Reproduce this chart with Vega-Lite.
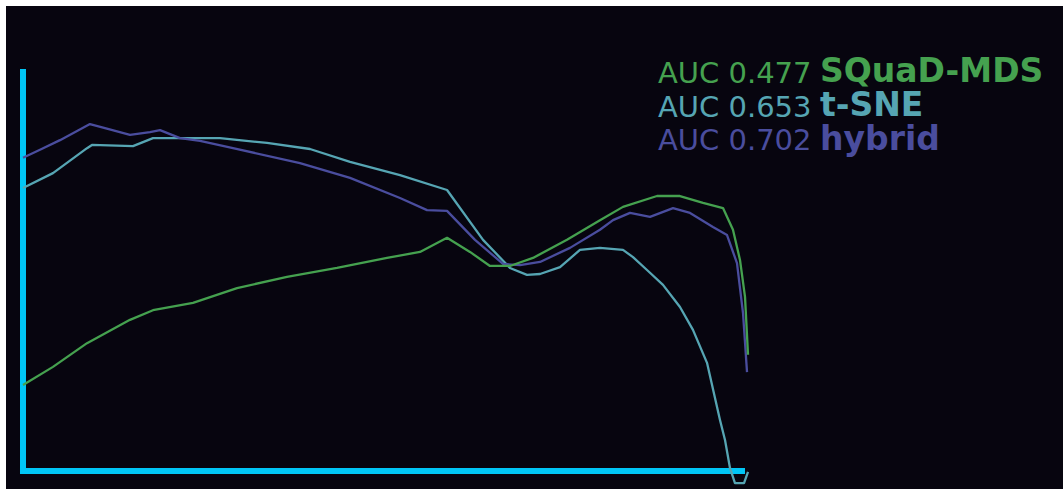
{
  "$schema": "https://vega.github.io/schema/vega-lite/v6.json",
  "width": 1057,
  "height": 483,
  "autosize": {"type": "none"},
  "padding": {"left": 6, "top": 6, "right": 0, "bottom": 0},
  "background": "#ffffff",
  "config": {"view": {"fill": "#07050f", "stroke": null}},
  "datasets": {
    "curves": [
      {"method": "t-SNE", "x": 0, "y": 0.704},
      {"method": "t-SNE", "x": 4.18, "y": 0.741},
      {"method": "t-SNE", "x": 8.93, "y": 0.803},
      {"method": "t-SNE", "x": 9.62, "y": 0.811},
      {"method": "t-SNE", "x": 15.34, "y": 0.808},
      {"method": "t-SNE", "x": 18.13, "y": 0.828},
      {"method": "t-SNE", "x": 27.48, "y": 0.828},
      {"method": "t-SNE", "x": 34.03, "y": 0.816},
      {"method": "t-SNE", "x": 40.03, "y": 0.801},
      {"method": "t-SNE", "x": 45.61, "y": 0.769},
      {"method": "t-SNE", "x": 52.58, "y": 0.736},
      {"method": "t-SNE", "x": 59.14, "y": 0.699},
      {"method": "t-SNE", "x": 64.16, "y": 0.575},
      {"method": "t-SNE", "x": 67.92, "y": 0.505},
      {"method": "t-SNE", "x": 70.29, "y": 0.488},
      {"method": "t-SNE", "x": 72.11, "y": 0.49},
      {"method": "t-SNE", "x": 74.9, "y": 0.507},
      {"method": "t-SNE", "x": 77.68, "y": 0.55},
      {"method": "t-SNE", "x": 80.47, "y": 0.555},
      {"method": "t-SNE", "x": 83.68, "y": 0.55},
      {"method": "t-SNE", "x": 85.08, "y": 0.532},
      {"method": "t-SNE", "x": 87.03, "y": 0.5},
      {"method": "t-SNE", "x": 89.26, "y": 0.463},
      {"method": "t-SNE", "x": 91.63, "y": 0.408},
      {"method": "t-SNE", "x": 93.44, "y": 0.351},
      {"method": "t-SNE", "x": 95.4, "y": 0.269},
      {"method": "t-SNE", "x": 97.21, "y": 0.127},
      {"method": "t-SNE", "x": 97.91, "y": 0.077},
      {"method": "t-SNE", "x": 98.61, "y": 0.007},
      {"method": "t-SNE", "x": 99.3, "y": -0.03},
      {"method": "t-SNE", "x": 100.56, "y": -0.03},
      {"method": "t-SNE", "x": 101.12, "y": -0.002},
      {"method": "hybrid", "x": 0, "y": 0.779},
      {"method": "hybrid", "x": 2.37, "y": 0.799},
      {"method": "hybrid", "x": 5.16, "y": 0.823},
      {"method": "hybrid", "x": 9.34, "y": 0.863},
      {"method": "hybrid", "x": 11.44, "y": 0.853},
      {"method": "hybrid", "x": 14.92, "y": 0.836},
      {"method": "hybrid", "x": 17.71, "y": 0.843},
      {"method": "hybrid", "x": 19.11, "y": 0.848},
      {"method": "hybrid", "x": 21.9, "y": 0.828},
      {"method": "hybrid", "x": 24.69, "y": 0.821},
      {"method": "hybrid", "x": 29.29, "y": 0.803},
      {"method": "hybrid", "x": 38.63, "y": 0.766},
      {"method": "hybrid", "x": 45.61, "y": 0.729},
      {"method": "hybrid", "x": 52.58, "y": 0.679},
      {"method": "hybrid", "x": 56.35, "y": 0.649},
      {"method": "hybrid", "x": 59.14, "y": 0.647},
      {"method": "hybrid", "x": 63.04, "y": 0.575},
      {"method": "hybrid", "x": 66.95, "y": 0.515},
      {"method": "hybrid", "x": 69.32, "y": 0.512},
      {"method": "hybrid", "x": 72.11, "y": 0.52},
      {"method": "hybrid", "x": 76.29, "y": 0.555},
      {"method": "hybrid", "x": 80.47, "y": 0.6},
      {"method": "hybrid", "x": 82.29, "y": 0.624},
      {"method": "hybrid", "x": 84.66, "y": 0.642},
      {"method": "hybrid", "x": 87.45, "y": 0.632},
      {"method": "hybrid", "x": 90.66, "y": 0.654},
      {"method": "hybrid", "x": 93.03, "y": 0.642},
      {"method": "hybrid", "x": 96.23, "y": 0.607},
      {"method": "hybrid", "x": 98.19, "y": 0.587},
      {"method": "hybrid", "x": 99.58, "y": 0.517},
      {"method": "hybrid", "x": 100.42, "y": 0.393},
      {"method": "hybrid", "x": 100.98, "y": 0.246},
      {"method": "SQuaD-MDS", "x": 0, "y": 0.214},
      {"method": "SQuaD-MDS", "x": 4.18, "y": 0.259},
      {"method": "SQuaD-MDS", "x": 8.93, "y": 0.318},
      {"method": "SQuaD-MDS", "x": 14.92, "y": 0.376},
      {"method": "SQuaD-MDS", "x": 18.13, "y": 0.4},
      {"method": "SQuaD-MDS", "x": 23.71, "y": 0.418},
      {"method": "SQuaD-MDS", "x": 29.85, "y": 0.455},
      {"method": "SQuaD-MDS", "x": 36.82, "y": 0.483},
      {"method": "SQuaD-MDS", "x": 43.79, "y": 0.505},
      {"method": "SQuaD-MDS", "x": 50.77, "y": 0.53},
      {"method": "SQuaD-MDS", "x": 55.37, "y": 0.545},
      {"method": "SQuaD-MDS", "x": 59.14, "y": 0.58},
      {"method": "SQuaD-MDS", "x": 62.34, "y": 0.545},
      {"method": "SQuaD-MDS", "x": 65.13, "y": 0.51},
      {"method": "SQuaD-MDS", "x": 67.92, "y": 0.51},
      {"method": "SQuaD-MDS", "x": 71.13, "y": 0.53},
      {"method": "SQuaD-MDS", "x": 75.87, "y": 0.575},
      {"method": "SQuaD-MDS", "x": 80.47, "y": 0.624},
      {"method": "SQuaD-MDS", "x": 83.68, "y": 0.657},
      {"method": "SQuaD-MDS", "x": 88.42, "y": 0.684},
      {"method": "SQuaD-MDS", "x": 91.63, "y": 0.684},
      {"method": "SQuaD-MDS", "x": 94.84, "y": 0.667},
      {"method": "SQuaD-MDS", "x": 97.63, "y": 0.654},
      {"method": "SQuaD-MDS", "x": 99.02, "y": 0.6},
      {"method": "SQuaD-MDS", "x": 100, "y": 0.525},
      {"method": "SQuaD-MDS", "x": 100.7, "y": 0.433},
      {"method": "SQuaD-MDS", "x": 101.12, "y": 0.289}
    ],
    "labels": [
      {"method": "SQuaD-MDS", "auc": "AUC 0.477", "rank": 0},
      {"method": "t-SNE", "auc": "AUC 0.653", "rank": 1},
      {"method": "hybrid", "auc": "AUC 0.702", "rank": 2}
    ],
    "frame": [
      {"x0": -0.42, "x1": 100.7, "y0": -0.0075, "y1": 1, "base": 0, "left": 0}
    ]
  },
  "resolve": {"scale": {"y": "independent"}},
  "layer": [
    {
      "data": {"name": "frame"},
      "mark": {"type": "rule", "color": "#00c6f6", "strokeWidth": 6, "strokeCap": "butt"},
      "encoding": {
        "x": {"field": "left", "type": "quantitative", "scale": {"domain": [-2.371, 145.05], "nice": false, "zero": false}, "axis": null},
        "y": {"field": "y0", "type": "quantitative", "scale": {"domain": [-0.0448, 1.1567], "nice": false, "zero": false}, "axis": null},
        "y2": {"field": "y1"}
      }
    },
    {
      "data": {"name": "frame"},
      "mark": {"type": "rule", "color": "#00c6f6", "strokeWidth": 6, "strokeCap": "butt"},
      "encoding": {
        "y": {"field": "base", "type": "quantitative", "scale": {"domain": [-0.0448, 1.1567], "nice": false, "zero": false}, "axis": null},
        "x": {"field": "x0", "type": "quantitative", "axis": null},
        "x2": {"field": "x1"}
      }
    },
    {
      "data": {"name": "curves"},
      "mark": {"type": "line", "strokeWidth": 2.3, "strokeJoin": "round", "interpolate": "linear"},
      "encoding": {
        "x": {"field": "x", "type": "quantitative", "axis": null},
        "y": {"field": "y", "type": "quantitative", "scale": {"domain": [-0.0448, 1.1567], "nice": false, "zero": false}, "axis": null},
        "color": {"field": "method", "type": "nominal", "legend": null,
          "scale": {"domain": ["SQuaD-MDS", "t-SNE", "hybrid"], "range": ["#45a14f", "#56a5b3", "#4a4d9e"]}},
        "order": {"field": "x", "type": "quantitative"}
      }
    },
    {
      "data": {"name": "labels"},
      "mark": {"type": "text", "font": "DejaVu Sans", "fontSize": 29, "align": "left", "baseline": "alphabetic"},
      "encoding": {
        "x": {"datum": 88.56, "type": "quantitative", "axis": null},
        "y": {"field": "rank", "type": "quantitative", "scale": {"domain": [0, 2], "range": [77, 144]}, "axis": null},
        "text": {"field": "auc"},
        "color": {"field": "method", "type": "nominal", "legend": null}
      }
    },
    {
      "data": {"name": "labels"},
      "mark": {"type": "text", "font": "DejaVu Sans", "fontSize": 33, "fontWeight": "bold", "align": "left", "baseline": "alphabetic"},
      "encoding": {
        "x": {"datum": 111.16, "type": "quantitative", "axis": null},
        "y": {"field": "rank", "type": "quantitative", "scale": {"domain": [0, 2], "range": [76, 144]}, "axis": null},
        "text": {"field": "method"},
        "color": {"field": "method", "type": "nominal", "legend": null}
      }
    }
  ]
}
